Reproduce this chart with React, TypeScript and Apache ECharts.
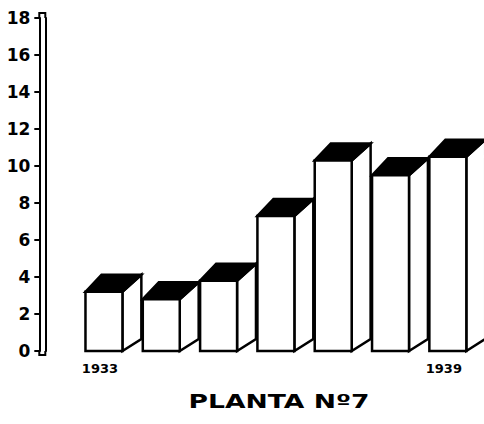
import React, { useEffect, useRef } from 'react';
import * as echarts from 'echarts';

const years = ['1933', '1934', '1935', '1936', '1937', '1938', '1939'];
const values = [3.2, 2.8, 3.8, 7.3, 10.3, 9.5, 10.5];
const yMin = 0;
const yMax = 18;
const yStep = 2;
const chartTitle = 'PLANTA Nº7';

const FONT = '"DejaVu Sans", sans-serif';

export default function App() {
  const ref = useRef<HTMLDivElement>(null);
  useEffect(() => {
    const chart = echarts.init(ref.current as HTMLDivElement, null, { renderer: 'svg' });
    const data = years.map((_, i) => [i, values[i]]);
    chart.setOption({
      animation: false,
      backgroundColor: '#fff',
      grid: { left: 75.3, right: 7.5, top: 18, bottom: 73, containLabel: false },
      xAxis: {
        type: 'category',
        data: years,
        axisLine: { show: false },
        axisTick: { show: false },
        axisLabel: {
          interval: (index: number) => index === 0 || index === years.length - 1,
          color: '#000',
          fontFamily: FONT,
          fontWeight: 'bold',
          fontSize: 13,
          margin: 11,
          padding: [0, 8, 0, 0],
        },
      },
      yAxis: [
        {
          type: 'value',
          min: yMin,
          max: yMax,
          interval: yStep,
          position: 'left',
          offset: 36,
          splitLine: { show: false },
          axisLine: { show: true, lineStyle: { color: '#000', width: 2 } },
          axisTick: { show: true, length: 5, lineStyle: { color: '#000', width: 2 } },
          axisLabel: {
            color: '#000',
            fontFamily: FONT,
            fontWeight: 'bold',
            fontSize: 17,
            margin: 9,
          },
        },
        {
          type: 'value',
          min: yMin,
          max: yMax,
          interval: yStep,
          position: 'left',
          offset: 30,
          splitLine: { show: false },
          axisLine: { show: true, lineStyle: { color: '#000', width: 2 } },
          axisTick: { show: false },
          axisLabel: { show: false },
        },
      ],
      graphic: [
        {
          type: 'polyline',
          shape: { points: [[39.3, 18], [39.3, 13], [45.3, 13], [45.3, 18]] },
          style: { stroke: '#000', lineWidth: 2, fill: 'none' },
        },
        {
          type: 'polyline',
          shape: { points: [[39.3, 351], [39.3, 355], [45.3, 355], [45.3, 351]] },
          style: { stroke: '#000', lineWidth: 2, fill: 'none' },
        },
        {
          type: 'text',
          x: 279,
          y: 401,
          scaleX: 1.4,
          style: {
            text: chartTitle,
            align: 'center',
            verticalAlign: 'middle',
            font: 'bold 19px "DejaVu Sans", sans-serif',
            fill: '#000',
          },
        },
      ],
      series: [
        {
          type: 'custom',
          coordinateSystem: 'cartesian2d',
          encode: { x: 0, y: 1 },
          data,
          renderItem: (params: any, api: any) => {
            const i = api.value(0);
            const v = api.value(1);
            const top = api.coord([i, v]);
            const base = api.coord([i, 0]);
            const band = api.size([1, 0])[0];
            const w = band * 0.645;
            const dx = band * 0.33;
            const dy = 17;
            const dyb = 12;
            const x0 = top[0] - w / 2;
            const x1 = top[0] + w / 2;
            const yt = top[1];
            const yb = base[1];
            const lw = 2.5;
            return {
              type: 'group',
              children: [
                {
                  type: 'polygon',
                  shape: { points: [[x1, yt], [x1 + dx, yt - dy], [x1 + dx, yb - dyb], [x1, yb]] },
                  style: { fill: '#fff', stroke: '#000', lineWidth: lw },
                },
                {
                  type: 'polygon',
                  shape: { points: [[x0, yt], [x0 + dx * 0.85, yt - dy], [x1 + dx, yt - dy], [x1, yt]] },
                  style: { fill: '#000', stroke: '#000', lineWidth: lw },
                },
                {
                  type: 'rect',
                  shape: { x: x0, y: yt, width: w, height: yb - yt },
                  style: { fill: '#fff', stroke: '#000', lineWidth: lw },
                },
              ],
            };
          },
        },
      ],
    });
    return () => chart.dispose();
  }, []);
  return (
    <div
      ref={ref}
      style={{ position: 'absolute', left: 0, top: 0, width: 484, height: 424 }}
    />
  );
}
